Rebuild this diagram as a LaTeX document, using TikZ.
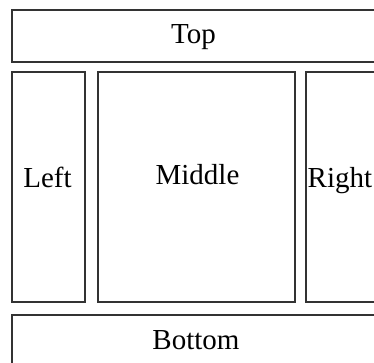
\documentclass[tikz,border=0pt]{standalone}
\usepackage{fontspec}
\setmainfont{Liberation Serif}
\definecolor{boxgray}{HTML}{333333}
\tikzset{
  panel/.style={draw=boxgray,line width=1.6pt},
  lbl/.style={inner sep=0pt,font=\fontsize{29}{32}\selectfont}
}
\begin{document}
\begin{tikzpicture}[x=1pt,y=-1pt]
	%frame
	\useasboundingbox (0,0) rectangle (374,363);
	\clip (0,0) rectangle (374,363);

	%boxes
	\draw[panel] (12,10) rectangle (380,62); %top
	\draw[panel] (12,72) rectangle (85,302); %left
	\draw[panel] (98,72) rectangle (295,302); %middle
	\draw[panel] (306,72) rectangle (380,302); %right
	\draw[panel] (12,315) rectangle (380,372); %bottom

	%labels
	\node[lbl,anchor=base] (top) at (193.5,44) {Top};
	\node[lbl,anchor=base] (left) at (47.5,187) {Left};
	\node[lbl,anchor=base] (middle) at (197.5,185) {Middle};
	\node[lbl,anchor=base west] (right) at (307.5,187) {Right};
	\node[lbl,anchor=base] (bottom) at (196,349) {Bottom};
\end{tikzpicture}
\end{document}
